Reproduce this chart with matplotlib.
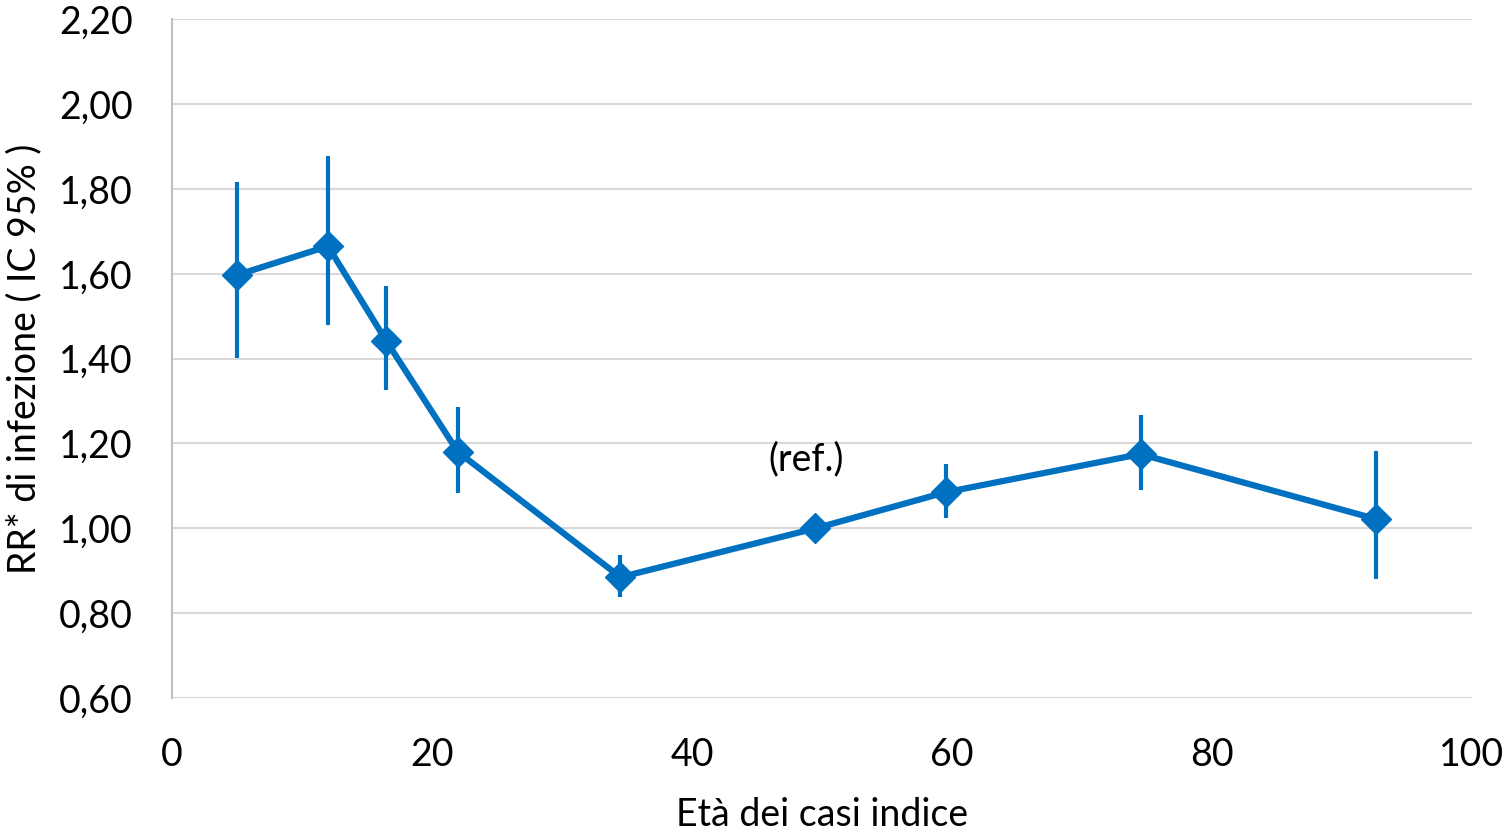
import matplotlib
matplotlib.use("Agg")
import matplotlib.pyplot as plt
from matplotlib.ticker import FuncFormatter

plt.rcParams["font.family"] = ["Lato", "DejaVu Sans"]

BLUE = "#0070C0"
GRID = "#D9D9D9"

# dati
eta = [5.0, 12.0, 16.5, 22.0, 34.5, 49.5, 59.5, 74.5, 92.6]
rr = [1.597, 1.665, 1.441, 1.180, 0.885, 1.00, 1.085, 1.175, 1.022]
ic_low = [1.401, 1.479, 1.326, 1.083, 0.838, 1.00, 1.024, 1.090, 0.880]
ic_high = [1.816, 1.877, 1.571, 1.286, 0.937, 1.00, 1.151, 1.267, 1.182]

yerr = [[r - lo for r, lo in zip(rr, ic_low)],
        [hi - r for r, hi in zip(rr, ic_high)]]

fig = plt.figure(figsize=(15.07, 8.36), dpi=100)
ax = fig.add_axes([0.1141, 0.165, 0.8627, 0.812])

ax.set_xlim(0, 100)
ax.set_ylim(0.60, 2.20)
ax.set_xticks([0, 20, 40, 60, 80, 100])
ax.set_yticks([0.6, 0.8, 1.0, 1.2, 1.4, 1.6, 1.8, 2.0, 2.2])
ax.yaxis.set_major_formatter(FuncFormatter(lambda v, p: f"{v:.2f}".replace(".", ",")))

ax.grid(axis="y", color=GRID, linewidth=1.5, zorder=0)
ax.axhline(1.0, color="black", linewidth=1.2, zorder=1)

for s in ["top", "right", "bottom"]:
    ax.spines[s].set_visible(False)
ax.spines["left"].set_color("#BFBFBF")
ax.spines["left"].set_linewidth(1.5)
ax.tick_params(length=0, labelsize=27)
ax.tick_params(axis="y", pad=28)
ax.tick_params(axis="x", pad=28)

ax.errorbar(eta, rr, yerr=yerr, color=BLUE, linewidth=4.5, elinewidth=3.0,
            capsize=0, marker="D", markersize=15, zorder=3)

ax.text(48.8, 1.162, "(ref.)", ha="center", va="center", fontsize=27)

ax.set_xlabel("Età dei casi indice", fontsize=27, labelpad=17)
ax.set_ylabel("RR* di infezione ( IC 95% )", fontsize=27, labelpad=12)

plt.savefig("out.png", dpi=100)
